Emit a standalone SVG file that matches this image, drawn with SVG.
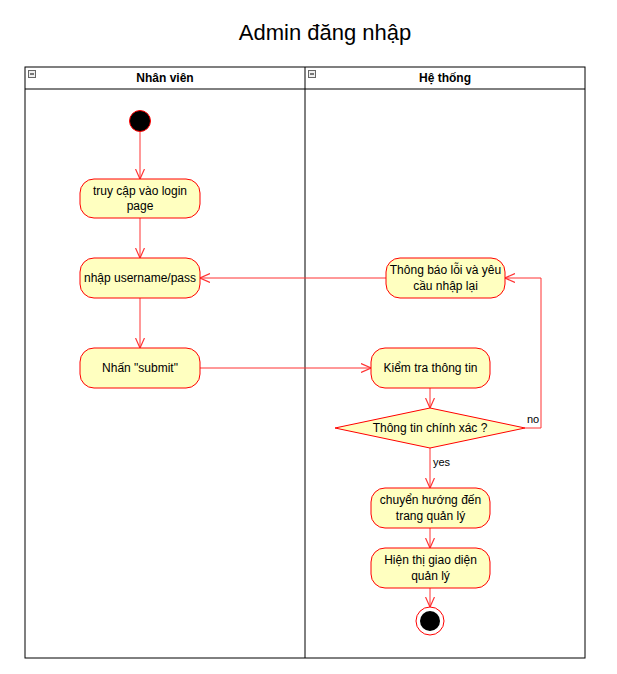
<svg xmlns="http://www.w3.org/2000/svg" width="617" height="674" viewBox="0 0 617 674">
<style>
.t{font-family:"Liberation Sans",Arial,sans-serif;font-size:12px;fill:#000;text-anchor:middle}
.h{font-family:"Liberation Sans",Arial,sans-serif;font-size:12px;font-weight:bold;fill:#000;text-anchor:middle}
.n{fill:#FFFFC0;stroke:#FF0000;stroke-width:1}
.c{fill:none;stroke:#FF3333;stroke-width:1;marker-end:url(#a)}
.l{font-family:"Liberation Sans",Arial,sans-serif;font-size:11px;fill:#000}
</style>
<defs>
<marker id="a" viewBox="0 0 10 10" refX="10" refY="5" markerWidth="10" markerHeight="10" markerUnits="userSpaceOnUse" orient="auto">
<path d="M0,0.5 L10,5 L0,9.5" fill="none" stroke="#FF3333" stroke-width="1.2"/>
</marker>
</defs>
<rect width="617" height="674" fill="#fff"/>
<text x="325" y="40" font-family="Liberation Sans,Arial,sans-serif" font-size="22" text-anchor="middle">Admin đăng nhập</text>
<g id="pool">
<rect x="25" y="67" width="560" height="591" fill="none" stroke="#000"/>
<line x1="25" y1="89" x2="585" y2="89" stroke="#000"/>
<line x1="305" y1="67" x2="305" y2="658" stroke="#000"/>
<rect x="28.5" y="70.5" width="7" height="7" fill="#eee" stroke="#666"/>
<line x1="30" y1="74" x2="34" y2="74" stroke="#000"/>
<rect x="308.5" y="70.5" width="7" height="7" fill="#eee" stroke="#666"/>
<line x1="310" y1="74" x2="314" y2="74" stroke="#000"/>
<text class="h" x="165" y="82">Nhân viên</text>
<text class="h" x="445" y="82">Hệ thống</text>
</g>
<g id="connectors">
<path class="c" d="M140,131 L140,179"/>
<path class="c" d="M140,218 L140,258"/>
<path class="c" d="M140,298 L140,348"/>
<path class="c" d="M200,368 L371,368"/>
<path class="c" d="M386,278 L200,278"/>
<path class="c" d="M430,388 L430,408"/>
<path class="c" d="M525,428 L541,428 L541,278 L505,278"/>
<path class="c" d="M430,448 L430,488"/>
<path class="c" d="M430,528 L430,548"/>
<path class="c" d="M430,588 L430,607"/>
<text class="l" x="527" y="423">no</text>
<text class="l" x="433" y="466">yes</text>
</g>
<g id="start"><circle cx="140" cy="121" r="10.5" fill="#000" stroke="#FF0000"/></g>
<g id="n1"><rect class="n" x="80" y="179" width="120" height="39" rx="14"/><text class="t" x="140" y="195">truy cập vào login</text><text class="t" x="140" y="210">page</text></g>
<g id="n2"><rect class="n" x="80" y="258" width="120" height="40" rx="14"/><text class="t" x="140" y="282">nhập username/pass</text></g>
<g id="n3"><rect class="n" x="80" y="348" width="120" height="40" rx="14"/><text class="t" x="140" y="372">Nhấn "submit"</text></g>
<g id="n4"><rect class="n" x="386" y="258" width="119" height="40" rx="14"/><text class="t" x="445.5" y="274">Thông báo lỗi và yêu</text><text class="t" x="445.5" y="290">cầu nhập lại</text></g>
<g id="n5"><rect class="n" x="371" y="348" width="119" height="40" rx="14"/><text class="t" x="430.5" y="372">Kiểm tra thông tin</text></g>
<g id="d1"><path class="n" d="M430,408 L525,428 L430,448 L335,428 Z"/><text class="t" x="430" y="432">Thông tin chính xác ?</text></g>
<g id="n6"><rect class="n" x="371" y="488" width="119" height="40" rx="14"/><text class="t" x="430.5" y="504">chuyển hướng đến</text><text class="t" x="430.5" y="520">trang quản lý</text></g>
<g id="n7"><rect class="n" x="371" y="548" width="119" height="40" rx="14"/><text class="t" x="430.5" y="564">Hiện thị giao diện</text><text class="t" x="430.5" y="580">quản lý</text></g>
<g id="end"><circle cx="430" cy="621" r="14" fill="#fff" stroke="#FF0000"/><circle cx="430" cy="621" r="10" fill="#000"/></g>
</svg>
